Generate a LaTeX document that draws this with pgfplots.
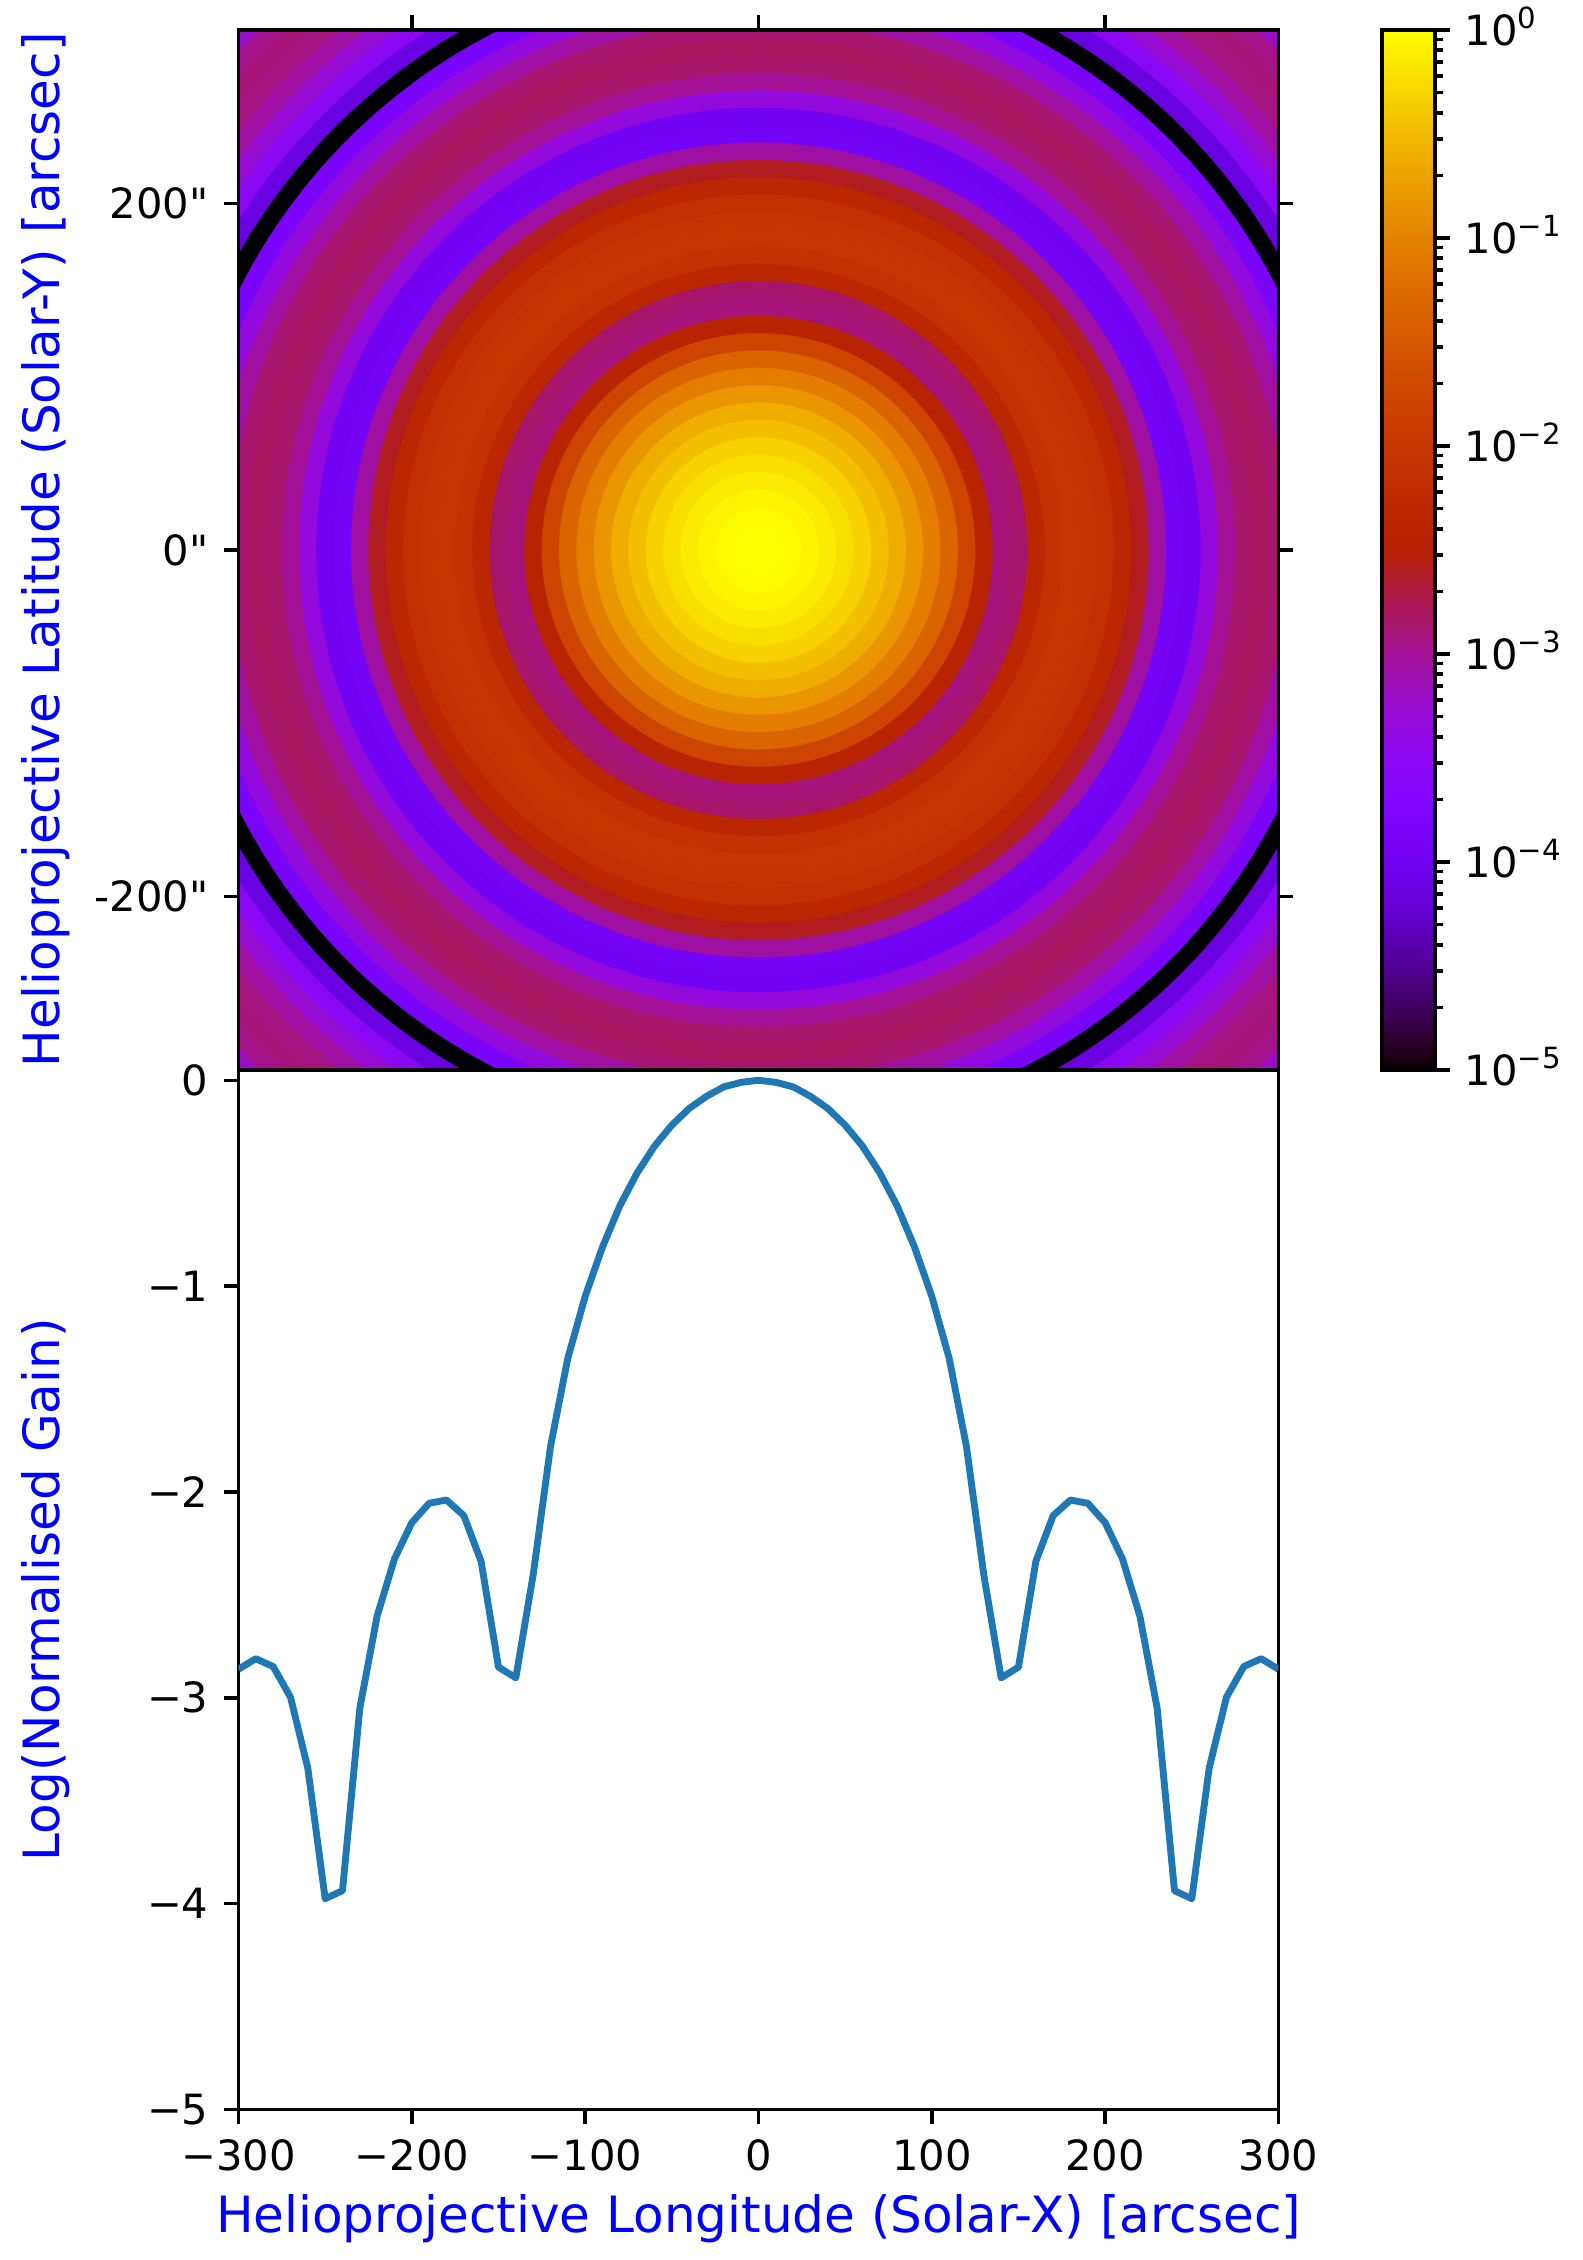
\documentclass[border=0pt]{standalone}
\usepackage{fontspec}
\setmainfont{DejaVu Sans}
\newfontfamily\plainf{DejaVu Sans}
\usepackage{pgfplots}
\usepackage{pgfplotstable}
\pgfplotsset{compat=1.18}
\newcommand\tenp[1]{10\smash{\raisebox{4pt}{\fontsize{7}{7}\selectfont #1}}}
\pgfplotsset{
  colormap={gp}{
    rgb(0)=(0,0,0); rgb(2)=(0.1,0,0.0628); rgb(5)=(0.158,0,0.156); rgb(10)=(0.2236,0.0001,0.309);
    rgb(20)=(0.3162,0.001,0.5878); rgb(30)=(0.3873,0.0034,0.809); rgb(40)=(0.4472,0.008,0.9511);
    rgb(50)=(0.5,0.0156,1); rgb(60)=(0.5477,0.027,0.9511); rgb(70)=(0.5916,0.0429,0.809);
    rgb(80)=(0.6325,0.064,0.5878); rgb(90)=(0.6708,0.0911,0.309); rgb(100)=(0.7071,0.125,0);
    rgb(110)=(0.7416,0.1664,0); rgb(120)=(0.7746,0.216,0); rgb(130)=(0.8062,0.2746,0);
    rgb(140)=(0.8367,0.343,0); rgb(150)=(0.866,0.4219,0); rgb(160)=(0.8944,0.512,0);
    rgb(170)=(0.922,0.6141,0); rgb(180)=(0.9487,0.729,0); rgb(190)=(0.9747,0.8574,0);
    rgb(200)=(1,1,0)
  },
  every axis/.append style={
    scale only axis, axis line style={line width=0.85pt,black},
    tick style={line width=0.85pt,black},
    major tick length=3.5pt, minor tick length=2pt,
    tick align=outside, scaled ticks=false,
    xticklabel style={inner sep=3.5pt}, yticklabel style={inner sep=3.5pt},
    every axis y label/.style={at={(axis description cs:-0.1855,0.5)},rotate=90,anchor=center,font=\fontsize{12}{14.4}\selectfont,text=blue},
    every axis x label/.style={at={(axis description cs:0.5,-0.105)},anchor=center,font=\fontsize{12}{14.4}\selectfont,text=blue},
  }
}
\pgfplotstableread{
x y rim g
0 0 425 -3.2
0 0 415 -2.95
0 0 405 -2.9
0 0 395 -2.92
0 0 385 -3.05
0 0 375 -3.27
0 0 365 -3.53
0 0 355 -4.13
0 0 345 -5.0
0 0 335 -3.85
0 0 325 -3.35
0 0 315 -3.05
0 0 305 -2.86
0 0 295 -2.81
0 0 285 -2.848
0 0 275 -2.997
0 0 265 -3.342
0 0 255 -3.976
0 0 245 -3.937
0 0 235 -3.05
0 0 225 -2.602
0 0 215 -2.325
0 0 205 -2.149
0 0 195 -2.055
0 0 185 -2.039
0 0 175 -2.115
0 0 165 -2.338
0 0 155 -2.851
0 0 145 -2.903
0 0 135 -2.403
0 0 125 -1.78
0 0 115 -1.35
0 0 105 -1.05
0 0 95 -0.81
0 0 85 -0.61
0 0 75 -0.45
0 0 65 -0.32
0 0 55 -0.218
0 0 45 -0.137
0 0 35 -0.078
0 0 25 -0.032
0 0 15 -0.01
0 0 5 0
}\ringtable
\pgfplotstableread{
x g
-300 -2.861
-290 -2.81
-280 -2.848
-270 -2.997
-260 -3.342
-250 -3.976
-240 -3.937
-230 -3.05
-220 -2.602
-210 -2.325
-200 -2.149
-190 -2.055
-180 -2.039
-170 -2.115
-160 -2.338
-150 -2.851
-140 -2.903
-130 -2.403
-120 -1.78
-110 -1.35
-100 -1.05
-90 -0.81
-80 -0.61
-70 -0.45
-60 -0.32
-50 -0.218
-40 -0.137
-30 -0.078
-20 -0.032
-10 -0.01
0 0
10 -0.01
20 -0.032
30 -0.078
40 -0.137
50 -0.218
60 -0.32
70 -0.45
80 -0.61
90 -0.81
100 -1.05
110 -1.35
120 -1.78
130 -2.403
140 -2.903
150 -2.851
160 -2.338
170 -2.115
180 -2.039
190 -2.055
200 -2.149
210 -2.325
220 -2.602
230 -3.05
240 -3.937
250 -3.976
260 -3.342
270 -2.997
280 -2.848
290 -2.81
300 -2.861
}\linetable
\begin{document}
\begin{tikzpicture}
\path[use as bounding box] (-57.24pt,-36.12pt) rectangle (322.44pt,506.28pt);
\begin{axis}[
  at={(0pt,0pt)}, anchor=south west,
  width=249.6pt, height=249.48pt,
  xmin=-300, xmax=300, ymin=-5, ymax=0.05,
  xtick={-300,-200,-100,0,100,200,300},
  xticklabels={−300,−200,−100,0,100,200,300},
  ytick={-5,-4,-3,-2,-1,0},
  yticklabels={−5,−4,−3,−2,−1,0},
  xtick pos=bottom, ytick pos=left,
  xlabel={Helioprojective Longitude (Solar-X) [arcsec]},
  ylabel={Log(Normalised Gain)},
]
\addplot[color={rgb,255:red,31;green,119;blue,180},line width=1.65pt,line join=round,mark=none] table[x=x,y=g] {\linetable};
\end{axis}
\begin{axis}[
  at={(0pt,249.48pt)}, anchor=south west,
  width=249.6pt, height=249.6pt,
  xmin=-300, xmax=300, ymin=-300, ymax=300,
  axis on top,
  clip marker paths=true,
  colormap name=gp,
  point meta min=-5, point meta max=0,
  xtick={-200,0,200}, xticklabels={,,},
  ytick={-200,0,200}, yticklabels={{\plainf -200"},{\plainf 0"},{\plainf 200"}},
  xtick pos=top, ytick pos=both, yticklabel pos=left,
  ylabel={Helioprojective Latitude (Solar-Y) [arcsec]},
  colorbar,
  colorbar style={
    at={(1.0998,1)}, anchor=north west,
    width=12.65pt, height=249.6pt,
    ytick={-5,-4,-3,-2,-1,0},
    yticklabels={\tenp{−5},\tenp{−4},\tenp{−3},\tenp{−2},\tenp{−1},\tenp{0}},
    minor ytick={-4.699,-4.523,-4.398,-4.301,-4.222,-4.155,-4.097,-4.046,
      -3.699,-3.523,-3.398,-3.301,-3.222,-3.155,-3.097,-3.046,
      -2.699,-2.523,-2.398,-2.301,-2.222,-2.155,-2.097,-2.046,
      -1.699,-1.523,-1.398,-1.301,-1.222,-1.155,-1.097,-1.046,
      -0.699,-0.523,-0.398,-0.301,-0.222,-0.155,-0.097,-0.046},
    ytick pos=right, yticklabel pos=right,
  },
]
\addplot[
  scatter, only marks, mark=*,
  scatter src=explicit,
  mark options={line width=0.05pt},
  scatter/use mapped color={draw=mapped color,fill=mapped color},
  visualization depends on={\thisrow{rim}*0.416 \as \ringsize},
  scatter/@pre marker code/.append style={/tikz/mark size=\ringsize},
] table[x=x,y=y,meta=g] {\ringtable};
\end{axis}
\end{tikzpicture}
\end{document}
